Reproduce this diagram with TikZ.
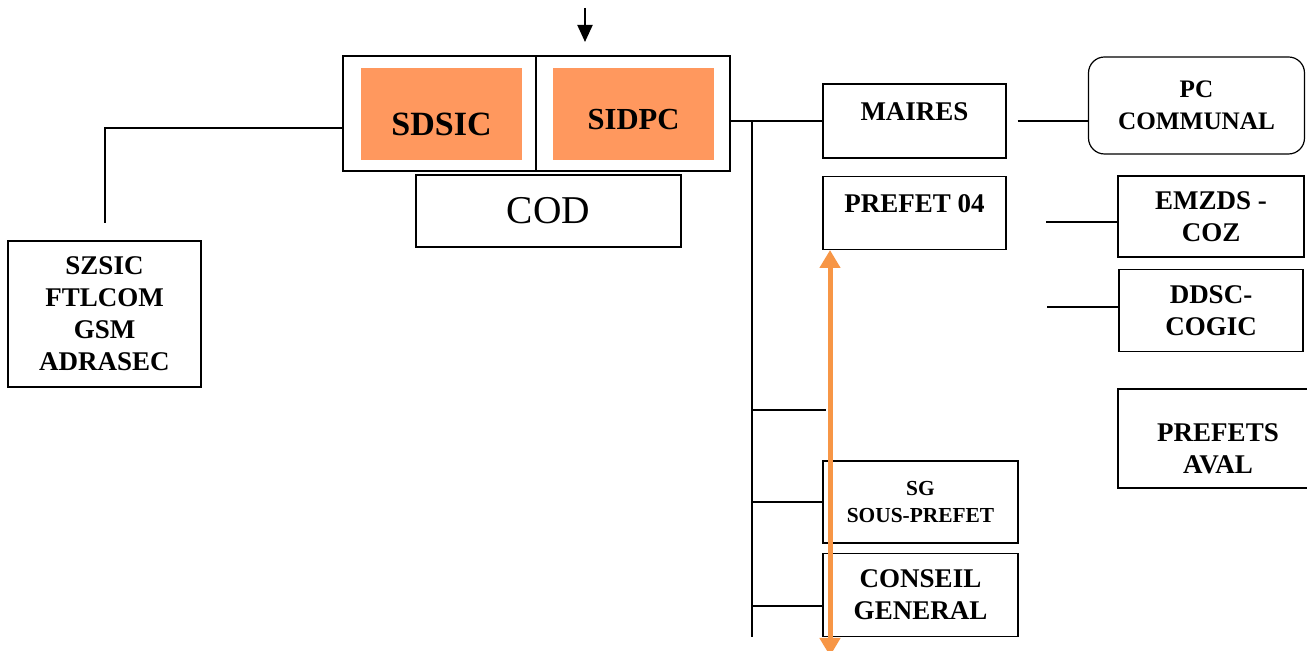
\documentclass[tikz,border=0pt]{standalone}
\usepackage{fontspec}
\setmainfont{Liberation Serif}
\usetikzlibrary{positioning, calc, arrows.meta}
\definecolor{cellorange}{RGB}{255,152,94}
\definecolor{linkorange}{RGB}{247,150,70}
\newcommand{\boxfont}{\fontsize{13.5}{16}\selectfont\bfseries}
\newcommand{\smallboxfont}{\fontsize{10.7}{13.5}\selectfont\bfseries}
\tikzset{
        box/.style 2 args={
		draw,
		line width=0.6pt,
		inner sep=0pt,
		align=center,
		font=\boxfont,
		minimum width={#1},
		minimum height={#2},
	  },
        cell/.style={fill=cellorange, inner sep=0pt, font=\bfseries}, % orange service cells
        link/.style={line width=1pt}, % plain connectors
        feed/.style={line width=1pt, -{Triangle[width=7.5pt,length=8.5pt]}},
        stream/.style={linkorange, line width=2.5pt, {Triangle[width=10pt,length=9pt]}-{Triangle[width=10pt,length=9pt]}},
    }

\begin{document}
\begin{tikzpicture}[x=0.5pt, y=-0.5pt]
    \useasboundingbox (0,0) rectangle (1307,651);
    % centre block
    \node [box={96.5pt}{57.5pt}] (sdsiccell) at (439.5,113.5) {};
    \node [box={97pt}{57.5pt}] (sidpccell) at (633,113.5) {};
    \node [cell, minimum width=80.5pt, minimum height=46pt, text height=21.3pt, font=\fontsize{17}{20}\selectfont\bfseries] (sdsic) at (441.5,114) {SDSIC};
    \node [cell, minimum width=80.5pt, minimum height=46pt, text height=16.1pt, font=\fontsize{15.3}{18}\selectfont\bfseries] (sidpc) at (633.5,114) {SIDPC};
    \node [box={132.5pt}{36pt}, font=\fontsize{19.7}{24}\selectfont] (cod) at (548.5,211) {COD};
    % left
    \node [box={96.5pt}{73pt}] (szsic) at (104.5,314) {SZSIC\\FTLCOM\\GSM\\ADRASEC};
    % right column
    \node [box={91.5pt}{37pt}, text depth=9pt] (maires) at (914.5,121) {MAIRES};
    \node [box={91.5pt}{36.5pt}, text depth=9pt, below=8.5pt of maires] (prefet) {PREFET 04};
    \node [box={97.5pt}{41pt}, font=\smallboxfont] (sg) at (920.5,502) {SG\\SOUS-PREFET};
    \node [box={97.5pt}{41.5pt}, below=4.5pt of sg] (conseil) {CONSEIL\\GENERAL};
    \node [box={108pt}{48.5pt}, rounded corners=8pt, font=\fontsize{12.6}{16}\selectfont\bfseries] (pccom) at (1196.5,105.5) {PC\\COMMUNAL};
    \node [box={93pt}{40.5pt}] (emzds) at (1211,216.5) {EMZDS -\\COZ};
    \node [box={92pt}{41pt}, below=5.5pt of emzds] (ddsc) {DDSC-\\COGIC};
    \node [box={100pt}{49.5pt}] (prefets) at (1218,438.5) {\mbox{}\\[3pt]PREFETS\\AVAL};

    % connectors
    \coordinate (feedtop) at (585,8);
    \coordinate (feedtip) at (585,42);
    \draw [feed] (feedtop) -- (feedtip);
    \draw [link] ($(sdsiccell.west)+(0,14.5)$) -| ($(szsic.north)+(0,-17)$);
    \draw [link] (sidpccell.east |- maires.west) -- (maires.west);
    \coordinate (trunk) at (752,121);
    \coordinate (trunkend) at (752,637);
    \draw [link] (trunk) -- (trunkend);
    \coordinate (spare) at (826,410);
    \draw [link] (trunk |- spare) -- (spare);
    \draw [link] (trunk |- sg.west) -- (sg.west);
    \coordinate (cgjoin) at ($(conseil.west)+(0,11.5)$);
    \draw [link] (trunk |- cgjoin) -- (cgjoin);
    \draw [link] ([xshift=5.5pt]maires.east) -- (maires.east -| pccom.west);
    \draw [link] ($(emzds.west)+(0,5.5)$) -- ++(-71,0);
    \draw [link] ($(ddsc.west)+(0,-3)$) -- ++(-71,0);

    \coordinate (streamtop) at (830,250);
    \coordinate (streamend) at (830,656);
    \draw [stream] (streamtop) -- (streamend);
\end{tikzpicture}
\end{document}
